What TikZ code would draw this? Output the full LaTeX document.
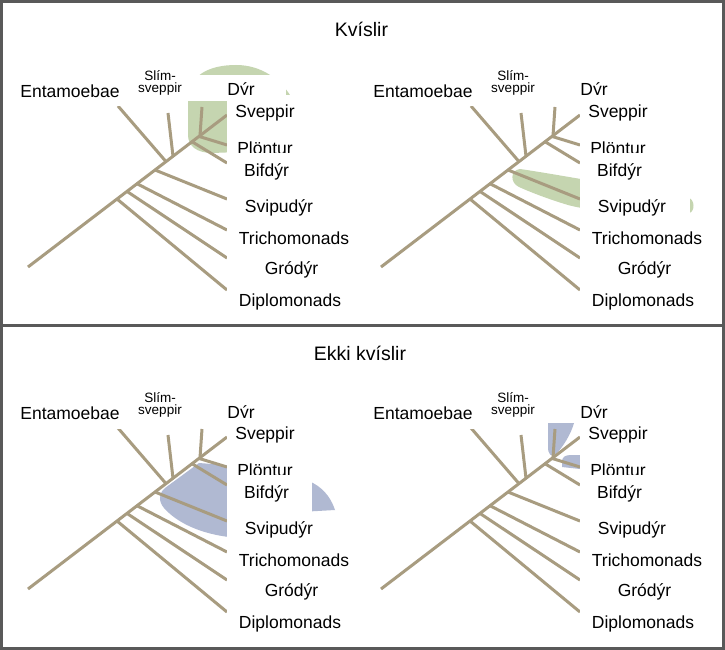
\documentclass[tikz,border=0pt]{standalone}
\usepackage{fontspec}
\setmainfont{Liberation Sans}
\definecolor{branchc}{RGB}{168,156,128}
\definecolor{greenb}{RGB}{197,213,176}
\definecolor{blueb}{RGB}{176,185,210}
\definecolor{framec}{RGB}{89,89,89}
\tikzset{
  branch/.style={draw=branchc, line width=3pt},
  lab/.style={fill=white, inner xsep=0pt, inner ysep=0pt, text height=12.6pt, text depth=3.7pt,
    minimum height=32pt, font=\fontsize{17.5}{20}\selectfont},
  slimlab/.style={inner sep=0pt, align=center, font=\fontsize{13.5}{12.5}\selectfont},
  titlelab/.style={font=\fontsize{19.5}{22}\selectfont, anchor=base, inner sep=0pt},
  frameline/.style={draw=framec, line width=3pt},
  phylo/.pic={
    % trunk and junctions
    \coordinate (-root) at (28,267);
    \coordinate (-top) at (227,115);
    \coordinate (-jdip) at (117,199);
    \coordinate (-jgro) at (127,191.4);
    \coordinate (-jtri) at (137,183.7);
    \coordinate (-jsvi) at (155,170);
    \coordinate (-jent) at (166,161.6);
    \coordinate (-jsli) at (173,156.2);
    \coordinate (-jbif) at (192,141.7);
    \coordinate (-jpla) at (199,136.4);
    \coordinate (-jdyr) at (200,135.6);
    % branch ends
    \coordinate (-eent) at (118,106);
    \coordinate (-esli) at (168,113);
    \coordinate (-edyr) at (202,107);
    \coordinate (-epla) at (227,145);
    \coordinate (-ebif) at (227,163);
    \coordinate (-esvi) at (227,199);
    \coordinate (-etri) at (227,230);
    \coordinate (-egro) at (227,258);
    \coordinate (-edip) at (227,290);
    % branches
    \draw[branch] (-root) -- (-top);
    \draw[branch] (-jent) -- (-eent);
    \draw[branch] (-jsli) -- (-esli);
    \draw[branch] (-jdyr) -- (-edyr);
    \draw[branch] (-jpla) -- (-epla);
    \draw[branch] (-jbif) -- (-ebif);
    \draw[branch] (-jsvi) -- (-esvi);
    \draw[branch] (-jtri) -- (-etri);
    \draw[branch] (-jgro) -- (-egro);
    \draw[branch] (-jdip) -- (-edip);
    % labels
    \node[lab, inner xsep=3pt, minimum height=26pt] (-ent) at (70,93.5) {Entamoebae};
    \node[slimlab] (-sli) at (160,83) {Slím-\\sveppir};
    \node[lab, minimum width=100pt, minimum height=26pt, text height=17pt, text depth=1pt] (-dyr) at (236,88) {\hspace*{10pt}Dýr};
    \node[lab, minimum width=76pt, minimum height=36pt] (-sve) at (265,113.5) {Sveppir};
    \node[lab, minimum width=85pt, minimum height=40pt] (-pla) at (269.5,150) {Plöntur\hspace*{9pt}};
    \node[lab, minimum width=85pt, minimum height=40pt] (-bif) at (269.5,172.5) {Bifdýr\hspace*{6pt}};
    \node[lab, minimum width=110pt] (-svi) at (282,208.5) {Svipudýr\hspace*{6pt}};
    \node[lab, minimum width=134pt] (-tri) at (294,240.5) {Trichomonads};
    \node[lab, minimum width=129pt] (-gro) at (291.5,270.5) {Gródýr};
    \node[lab, minimum width=126pt] (-dip) at (290,302.5) {Diplomonads};
  }
}
\begin{document}
\begin{tikzpicture}[x=1pt, y=-1pt]
\useasboundingbox (0,0) rectangle (725,650);
\fill[white] (0,0) rectangle (725,650);

\node[titlelab] (t1) at (361.5,37) {Kvíslir};
\node[titlelab] (t2) at (360,360) {Ekki kvíslir};

% top left: clade highlighted (green)
\begin{scope}
  \fill[greenb] (188,135) -- (188,100) .. controls (188,76) and (208,65) .. (236,65)
     .. controls (262,65) and (282,80) .. (293,100) -- (293,150) -- (212,153)
     .. controls (197,153) and (188,146) .. (188,135) -- cycle;
  \pic (tl) at (0,0) {phylo};
\end{scope}

% top right
\begin{scope}[shift={(353,0)}]
  \fill[greenb] (167,169) .. controls (195,173) and (285,189) .. (336,198)
     .. controls (342,200) and (342,212) .. (336,213)
     .. controls (290,214) and (245,213) .. (215,205)
     .. controls (195,199) and (177,192) .. (166,187)
     .. controls (157,183) and (157,170) .. (167,169) -- cycle;
  \pic (tr) at (0,0) {phylo};
\end{scope}

% bottom left: not a clade (blue)
\begin{scope}[shift={(0,322)}]
  \fill[blueb] (199,141) .. controls (240,144) and (292,151) .. (313,161)
     .. controls (326,168) and (332,179) .. (335,188) -- (300,190) -- (240,216)
     .. controls (205,214) and (178,202) .. (164,186)
     .. controls (158,179) and (159,171) .. (165,166) -- cycle;
  \pic (bl) at (0,0) {phylo};
\end{scope}

% bottom right
\begin{scope}[shift={(353,322)}]
  \fill[blueb] (195,96) -- (221,96) -- (221,101) .. controls (218,112) and (210,125) .. (203,132)
     .. controls (198,136) and (195,132) .. (195,125) -- cycle;
  \fill[blueb] (209,145) -- (209,140) .. controls (209,135) and (212,133) .. (218,133)
     -- (227,133) -- (227,147) -- cycle;
  \pic (br) at (0,0) {phylo};
\end{scope}

\draw[frameline] (1.5,1.5) rectangle (723.5,648.5);
\draw[frameline] (0,325.5) -- (725,325.5);
\end{tikzpicture}
\end{document}
